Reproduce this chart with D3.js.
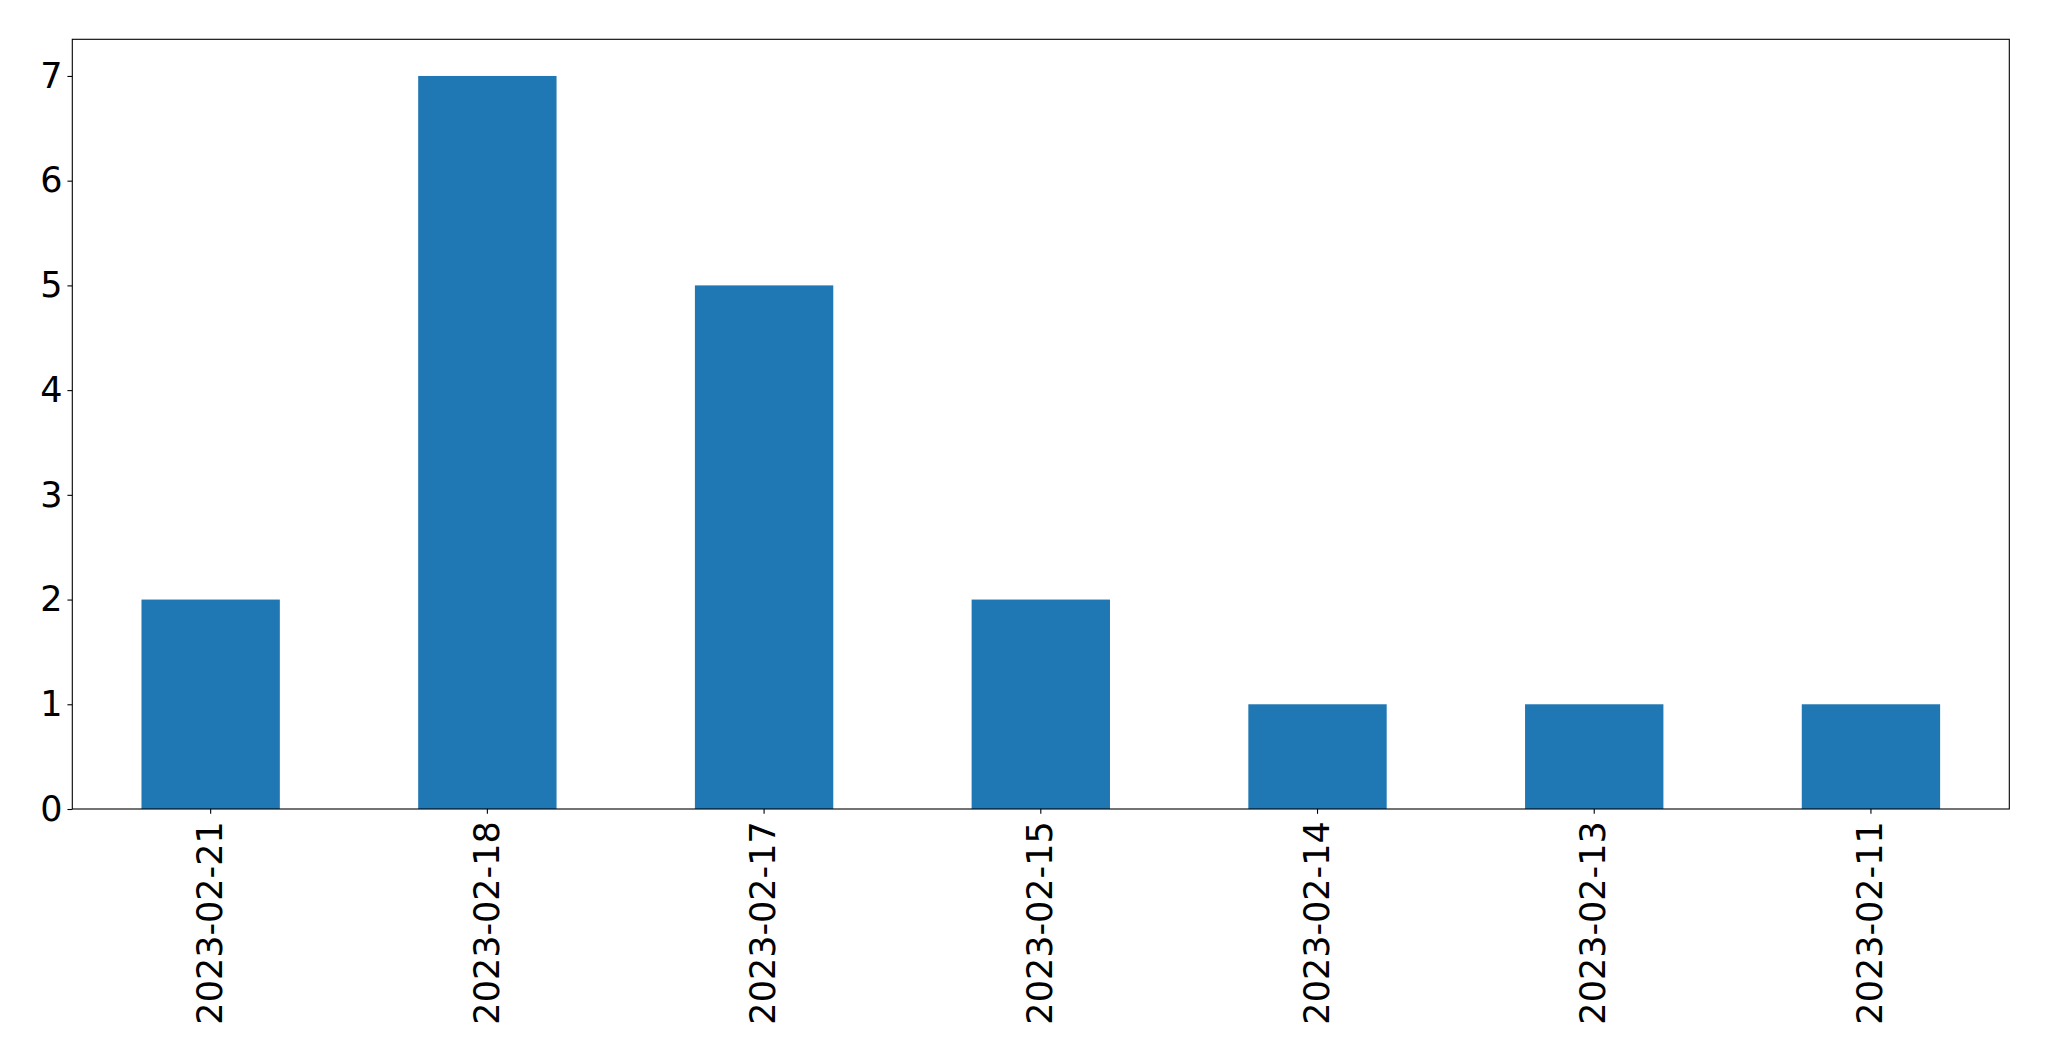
<!DOCTYPE html>
<html><head><meta charset="utf-8">
<script src="https://cdn.jsdelivr.net/npm/d3@7"></script>
<style>html,body{margin:0;padding:0;background:#fff;}svg{display:block;}</style>
</head><body>
<script>
const categories = ["2023-02-21","2023-02-18","2023-02-17","2023-02-15","2023-02-14","2023-02-13","2023-02-11"];
const values = [2,7,5,2,1,1,1];
const yTicks = [0,1,2,3,4,5,6,7];

const W = 2049, H = 1061;
const m = {left:72.3, top:39.3, right:2049-2009.3, bottom:1061-809};
const svg = d3.select("body").append("svg").attr("width",W).attr("height",H);
const iw = W-m.left-m.right, ih = H-m.top-m.bottom;
const g = svg.append("g").attr("transform",`translate(${m.left},${m.top})`);

const x = d3.scaleBand().domain(categories).range([0,iw]).paddingInner(0.5).paddingOuter(0.25);
const y = d3.scaleLinear().domain([0,7.35]).range([ih,0]);

g.selectAll("rect.bar").data(values).enter().append("rect")
  .attr("class","bar")
  .attr("x",(d,i)=>x(categories[i]))
  .attr("width",x.bandwidth())
  .attr("y",d=>y(d))
  .attr("height",d=>ih-y(d))
  .attr("fill","#1f77b4");

const font = "'DejaVu Sans', sans-serif";
const fs = "35px";
const tl = 4.86, pad = 4.86;

const yAxis = g.append("g").call(d3.axisLeft(y).tickValues(yTicks).tickFormat(d3.format("d")).tickSize(tl).tickPadding(pad));
yAxis.select(".domain").remove();
yAxis.selectAll("line").attr("stroke","#000").attr("stroke-width",1.1);
yAxis.selectAll("text").attr("font-family",font).style("font-size",fs).attr("fill","#000");

const xAxis = g.append("g").attr("transform",`translate(0,${ih})`)
  .call(d3.axisBottom(x).tickSize(tl).tickPadding(pad));
xAxis.select(".domain").remove();
xAxis.selectAll("line").attr("stroke","#000").attr("stroke-width",1.1);
xAxis.selectAll("text")
  .attr("font-family",font).style("font-size",fs).attr("fill","#000")
  .attr("transform","rotate(-90)")
  .attr("x",-(tl+pad+2.5)).attr("y",0).attr("dy","0.32em")
  .attr("text-anchor","end");

g.append("rect").attr("x",0).attr("y",0).attr("width",iw).attr("height",ih)
  .attr("fill","none").attr("stroke","#000").attr("stroke-width",1.1);
</script>
</body></html>
